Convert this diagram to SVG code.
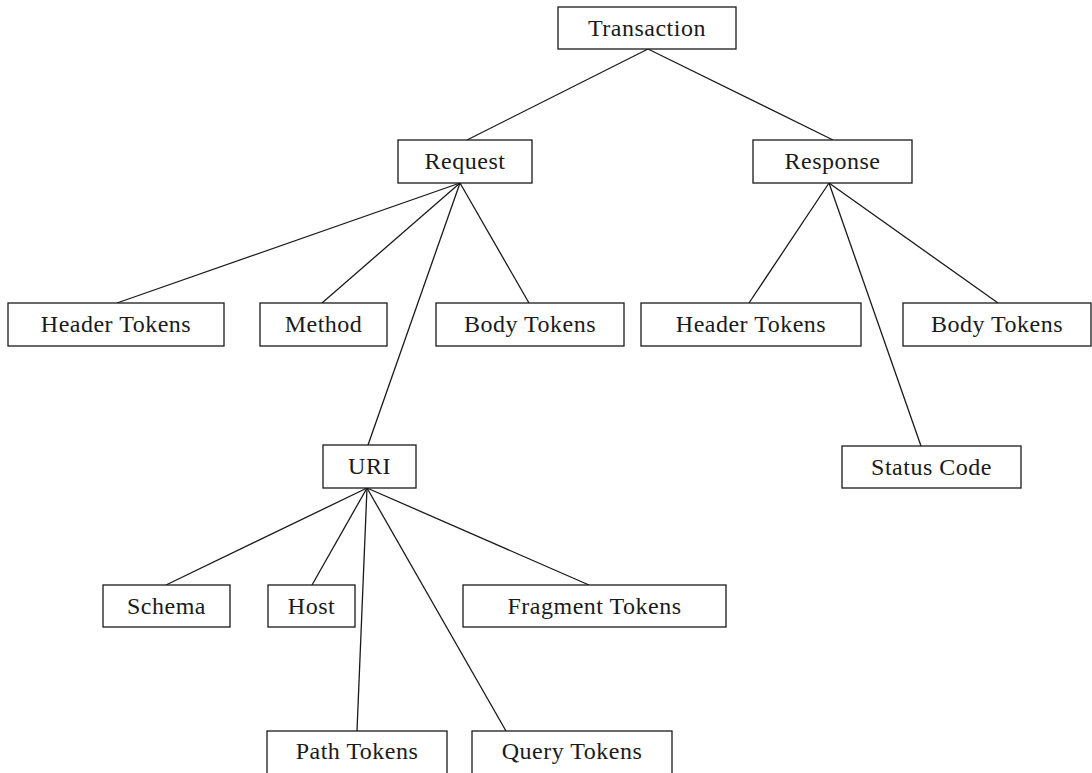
<svg xmlns="http://www.w3.org/2000/svg" width="1092" height="773" viewBox="0 0 1092 773">
  <style>
    .box { fill: #ffffff; stroke: #1a1a1a; stroke-width: 1.3; }
    .lbl { font-family: "Liberation Serif", "Times New Roman", serif; font-size: 24px; letter-spacing: 0.5px; fill: #1a1a1a; text-anchor: middle; }
    .edge { stroke: #1a1a1a; stroke-width: 1.3; fill: none; }
  </style>
  <rect width="1092" height="773" fill="#ffffff"/>

  <!-- tree edges -->
  <g id="connectors">
    <line class="edge" x1="648" y1="49" x2="467" y2="140"/>
    <line class="edge" x1="648" y1="49" x2="833" y2="140"/>
    <line class="edge" x1="460" y1="183" x2="117" y2="303"/>
    <line class="edge" x1="460" y1="183" x2="322" y2="303"/>
    <line class="edge" x1="460" y1="183" x2="529" y2="303"/>
    <line class="edge" x1="460" y1="183" x2="368" y2="445"/>
    <line class="edge" x1="829" y1="183" x2="749" y2="303"/>
    <line class="edge" x1="829" y1="183" x2="998" y2="303"/>
    <line class="edge" x1="829" y1="183" x2="921" y2="446"/>
    <line class="edge" x1="367" y1="488" x2="166" y2="585"/>
    <line class="edge" x1="367" y1="488" x2="312" y2="585"/>
    <line class="edge" x1="367" y1="488" x2="357" y2="731"/>
    <line class="edge" x1="367" y1="488" x2="506" y2="731"/>
    <line class="edge" x1="367" y1="488" x2="589" y2="585"/>
  </g>

  <g id="transaction">
    <rect class="box" x="558" y="7" width="178" height="42"/>
    <text class="lbl" x="647" y="36">Transaction</text>
  </g>
  <g id="request">
    <rect class="box" x="398" y="140" width="134" height="43"/>
    <text class="lbl" x="465" y="169">Request</text>
  </g>
  <g id="response">
    <rect class="box" x="753" y="140" width="159" height="43"/>
    <text class="lbl" x="832.5" y="169">Response</text>
  </g>
  <g id="req-header-tokens">
    <rect class="box" x="8" y="303" width="216" height="43"/>
    <text class="lbl" x="116" y="332">Header Tokens</text>
  </g>
  <g id="method">
    <rect class="box" x="260" y="303" width="127" height="43"/>
    <text class="lbl" x="323.5" y="332">Method</text>
  </g>
  <g id="req-body-tokens">
    <rect class="box" x="436" y="303" width="188" height="43"/>
    <text class="lbl" x="530" y="332">Body Tokens</text>
  </g>
  <g id="resp-header-tokens">
    <rect class="box" x="641" y="303" width="220" height="43"/>
    <text class="lbl" x="751" y="332">Header Tokens</text>
  </g>
  <g id="resp-body-tokens">
    <rect class="box" x="903" y="303" width="188" height="43"/>
    <text class="lbl" x="997" y="332">Body Tokens</text>
  </g>
  <g id="uri">
    <rect class="box" x="323" y="445" width="93" height="43"/>
    <text class="lbl" x="369.5" y="474">URI</text>
  </g>
  <g id="status-code">
    <rect class="box" x="842" y="446" width="179" height="42"/>
    <text class="lbl" x="931.5" y="475">Status Code</text>
  </g>
  <g id="schema">
    <rect class="box" x="103" y="585" width="127" height="42"/>
    <text class="lbl" x="166.5" y="614">Schema</text>
  </g>
  <g id="host">
    <rect class="box" x="268" y="585" width="87" height="42"/>
    <text class="lbl" x="311.5" y="614">Host</text>
  </g>
  <g id="fragment-tokens">
    <rect class="box" x="463" y="585" width="263" height="42"/>
    <text class="lbl" x="594.5" y="614">Fragment Tokens</text>
  </g>
  <g id="path-tokens">
    <rect class="box" x="267" y="731" width="180" height="50"/>
    <text class="lbl" x="357" y="759">Path Tokens</text>
  </g>
  <g id="query-tokens">
    <rect class="box" x="472" y="731" width="200" height="50"/>
    <text class="lbl" x="572" y="759">Query Tokens</text>
  </g>
</svg>
